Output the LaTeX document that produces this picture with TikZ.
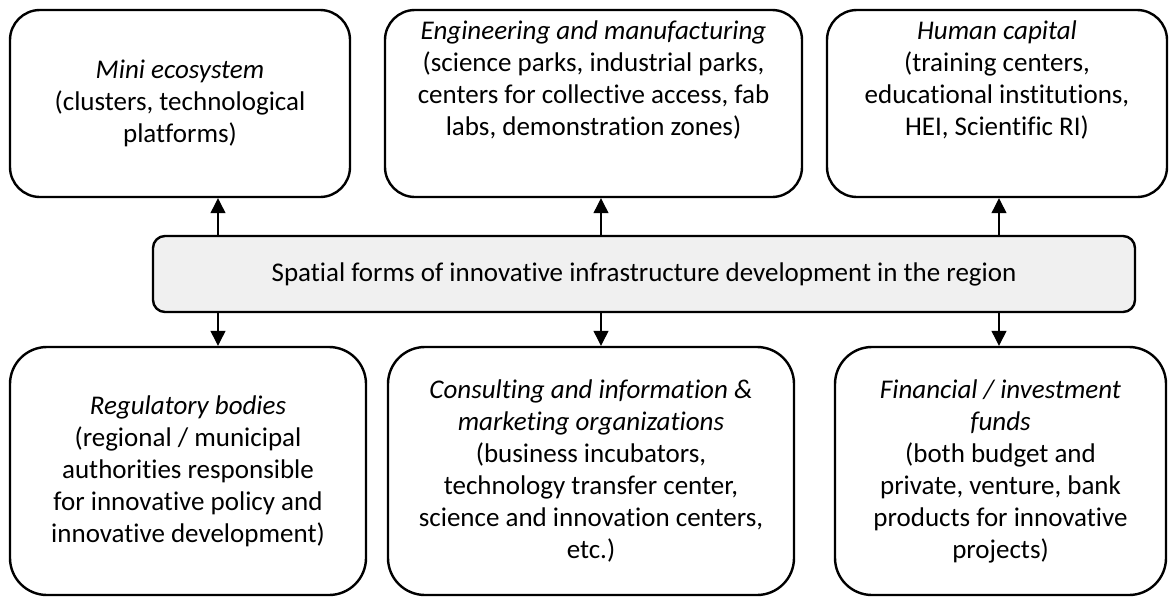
\documentclass[tikz,border=0pt]{standalone}
\usepackage{fontspec}
\setmainfont{Carlito}[Ligatures=NoCommon]
\usetikzlibrary{arrows.meta}
\definecolor{boxgray}{HTML}{F0F0F0}
\tikzset{
  txt/.style={align=center, inner sep=0pt, font=\fontsize{27}{32}\selectfont},
  basebox/.style={txt, draw=black, line width=2.4pt},
  topbox/.style={basebox, rounded corners=30pt, minimum height=187pt},
  botbox/.style={basebox, rounded corners=37pt, minimum height=248pt},
  midbox/.style={basebox, rounded corners=12pt, fill=boxgray, minimum width=982pt, minimum height=76pt},
  arr/.style={line width=1.2pt, -{Triangle[width=15pt,length=15pt]}}
}
\begin{document}
\begin{tikzpicture}[x=1pt,y=-1pt]
\useasboundingbox (0,0) rectangle (1169,597);
\node[topbox, minimum width=340pt] (t1) at (180,103.5)
  {\textit{Mini ecosystem}\\(clusters, technological\\platforms)};
\node[topbox, minimum width=417pt] (t2) at (593.5,103.5) {};
\node[txt] (t2text) at ([yshift=24pt]t2.center)
  {\textit{Engineering and manufacturing}\\(science parks, industrial parks,\\centers for collective access, fab\\labs, demonstration zones)};
\node[topbox, minimum width=340pt] (t3) at (997,103.5) {};
\node[txt] (t3text) at ([yshift=24pt]t3.center)
  {\textit{Human capital}\\(training centers,\\educational institutions,\\HEI, Scientific RI)};
\node[midbox] (c) at (644,274)
  {Spatial forms of innovative infrastructure development in the region};
\node[botbox, minimum width=356pt] (b1) at (188,471)
  {\textit{Regulatory bodies}\\(regional / municipal\\authorities responsible\\for innovative policy and\\innovative development)};
\node[botbox, minimum width=406pt] (b2) at (591,471)
  {\textit{Consulting and information \&}\\\textit{marketing organizations}\\(business incubators,\\technology transfer center,\\science and innovation centers,\\etc.)};
\node[botbox, minimum width=331pt] (b3) at (1000.5,471)
  {\textit{Financial / investment}\\\textit{funds}\\(both budget and\\private, venture, bank\\products for innovative\\projects)};
\coordinate (x1) at (218,0);
\coordinate (x2) at (601,0);
\coordinate (x3) at (999,0);
\draw[arr] (c.north -| x1) -- (t1.south -| x1);
\draw[arr] (c.north -| x2) -- (t2.south -| x2);
\draw[arr] (c.north -| x3) -- (t3.south -| x3);
\draw[arr] (c.south -| x1) -- (b1.north -| x1);
\draw[arr] (c.south -| x2) -- (b2.north -| x2);
\draw[arr] (c.south -| x3) -- (b3.north -| x3);
\end{tikzpicture}
\end{document}
